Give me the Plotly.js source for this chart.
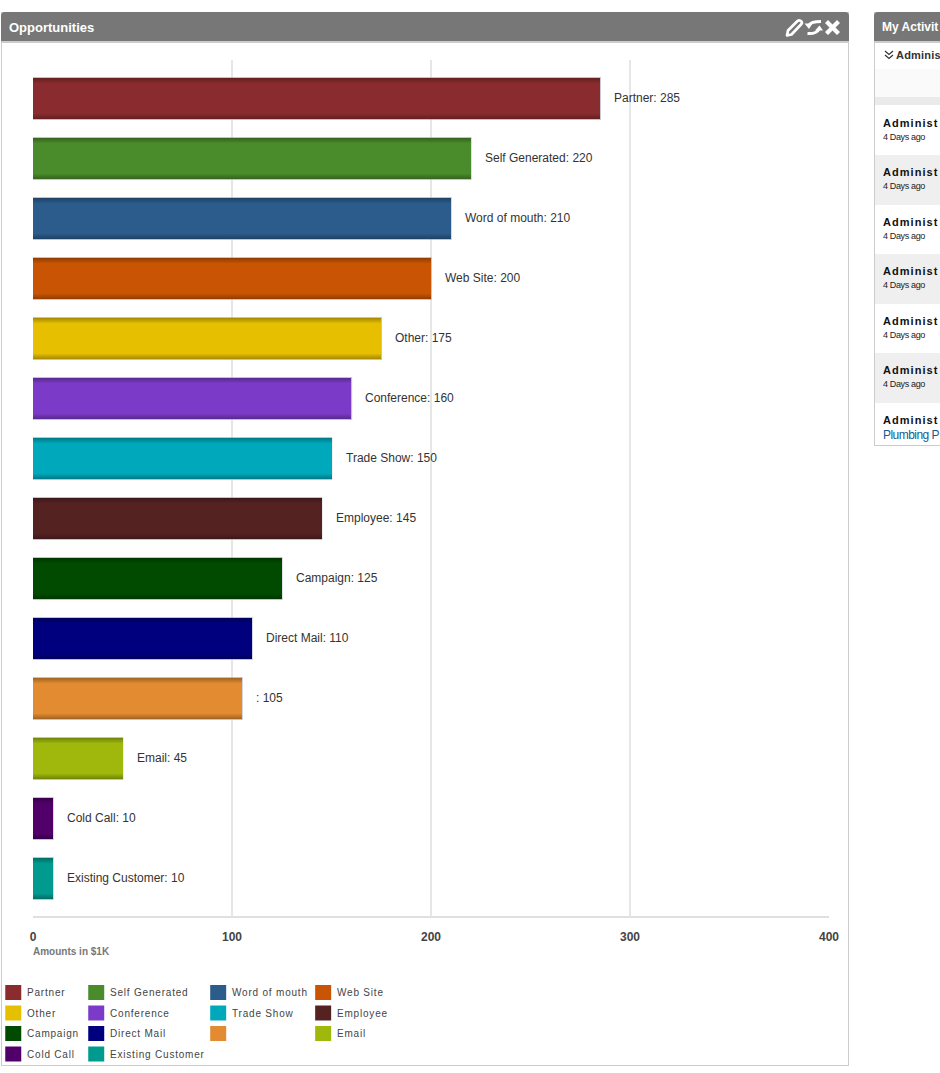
<!DOCTYPE html>
<html>
<head>
<meta charset="utf-8">
<script src="https://cdn.plot.ly/plotly-3.0.1.min.js"></script>
<style>
html,body{margin:0;padding:0;width:940px;height:1073px;overflow:hidden;background:#fff;font-family:"Liberation Sans",Arial,sans-serif}
.abs{position:absolute}
#chart{position:absolute;left:0;top:0;width:940px;height:1073px;z-index:2}
.panel{position:absolute;background:#fff;border:1px solid #ccc;box-sizing:border-box}
.hdr{position:absolute;background:#777;border-radius:4px 4px 0 0;border-bottom:2px solid #ccc;box-sizing:border-box;height:31px}
.row{position:absolute;left:875px;width:65px;overflow:hidden}
.nm{position:absolute;left:8px;font:bold 11px "Liberation Sans",Arial,sans-serif;letter-spacing:1.05px;color:#111;white-space:nowrap}
.ag{position:absolute;left:8px;font:9px "Liberation Sans",Arial,sans-serif;letter-spacing:-.35px;color:#222;white-space:nowrap}
</style>
</head>
<body>
<div class="panel" style="left:1px;top:12px;width:848px;height:1054px"></div>
<div class="hdr" style="left:1px;top:12px;width:848px"></div>
<svg class="abs" style="left:784px;top:17px;z-index:3" width="58" height="22" viewBox="0 0 58 22">
  <path d="M3 18.500 L4 13.500 L13.500 4 Q15.500 2.500 17.500 4.500 Q18.500 6 17 7.500 L7.500 17.500 Z" fill="none" stroke="#fff" stroke-width="2.700" stroke-linejoin="round"/>
  <path d="M25 8 Q27 4.500 37 4.500" fill="none" stroke="#fff" stroke-width="3"/>
  <path d="M20.500 6.500 L28.500 6.500 L25 12 Z" fill="#fff"/>
  <path d="M35 12 Q33 17 23.500 16.500" fill="none" stroke="#fff" stroke-width="3"/>
  <path d="M31 13.500 L39 13.500 L35.500 8.500 Z" fill="#fff"/>
  <path d="M41 6 L44 3 L48.500 7.500 L53 3 L56 6 L51.500 10.500 L56 15 L53 18 L48.500 13.500 L44 18 L41 15 L45.500 10.500 Z" fill="#fff"/>
</svg>

<div class="panel" style="left:874px;top:12px;width:80px;height:434px"></div>
<div class="hdr" style="left:874px;top:12px;width:80px"></div>
<div class="abs" style="left:882px;top:20px;font:bold 12px 'Liberation Sans',Arial,sans-serif;color:#fff;white-space:nowrap">My Activit</div>
<svg class="abs" style="left:884px;top:50px" width="10" height="10" viewBox="0 0 10 10"><path d="M1 1 L5 4.500 L9 1 M1 5 L5 8.500 L9 5" fill="none" stroke="#333" stroke-width="1.200"/></svg>
<div class="abs" style="left:896px;top:49px;font:bold 11px 'Liberation Sans',Arial,sans-serif;color:#333;white-space:nowrap;letter-spacing:.2px">Adminis</div>
<div class="abs" style="left:875px;top:69px;width:65px;height:28px;background:#fafafa"></div>
<div class="abs" style="left:875px;top:97px;width:65px;height:8px;background:#eaeaea"></div>
<div id="rows"></div>
<div id="chart"></div>

<script>
// Chart data
const categories = ['Partner','Self Generated','Word of mouth','Web Site','Other','Conference','Trade Show','Employee','Campaign','Direct Mail','','Email','Cold Call','Existing Customer'];
const legendLabels = ['Partner','Self Generated','Word of mouth','Web Site','Other','Conference','Trade Show','Employee','Campaign','Direct Mail','','Email','Cold Call','Existing Customer'];
const amounts = [285,220,210,200,175,160,150,145,125,110,105,45,10,10];
const barColors = ['#8a2c2f','#4a8b2c','#2b5c8b','#c95403','#e6c000','#7c3ac8','#00a8bc','#552222','#004b00','#00007f','#e28b30','#9fb80b','#500068','#009a8e'];
const tickValues = [0,100,200,300,400];

// Side panel text
const activityNames = ['Administ','Administ','Administ','Administ','Administ','Administ','Administ'];
const activityAges = ['4 Days ago','4 Days ago','4 Days ago','4 Days ago','4 Days ago','4 Days ago',''];

// Side panel rows
const rowTops = [106,155,205,254,304,353,403];
const rowsEl = document.getElementById('rows');
activityNames.forEach((n,i)=>{
  const r = document.createElement('div');
  r.className = 'row';
  const h = (i+1<rowTops.length?rowTops[i+1]:445)-rowTops[i];
  r.style.cssText = `top:${rowTops[i]}px;height:${h}px;background:${i%2?'#efefef':'#fff'}`;
  r.innerHTML = `<div class="nm" style="top:11px">${n}</div>`+
    (activityAges[i]?`<div class="ag" style="top:26px">${activityAges[i]}</div>`
      :`<div class="ag" style="top:25px;font-size:12px;color:#1b5a8c;letter-spacing:-.55px">Plumbing P</div>`);
  rowsEl.appendChild(r);
});

// Layout geometry
const W=940,H=1073,L=32.75,R=829,T=60,B=917,STEP=60,C0=98.5;
const px=x=>(x-L)/(R-L), py=y=>(B-y)/(B-T);

function shade(hex,f){
  const n=parseInt(hex.slice(1),16);
  const c=[n>>16,(n>>8)&255,n&255].map(v=>Math.round(v*f));
  return 'rgb('+c.join(',')+')';
}
const idx = amounts.map((_,i)=>i);
const layers = [
  {w:41.5,f:null},
  {w:41,f:0.74},
  {w:39,f:0.79},
  {w:37,f:0.84},
  {w:35,f:0.89},
  {w:33,f:0.94},
  {w:31,f:1}
];
const traces = layers.map(l=>({
  type:'bar',orientation:'h',x:amounts,y:idx,
  width:idx.map(()=>l.w/STEP),
  hoverinfo:'skip',showlegend:false,
  marker: l.f===null
    ? {color:'rgba(0,0,0,0)',line:{color:'rgba(170,170,185,0.7)',width:1.5}}
    : {color:barColors.map(c=>shade(c,l.f)),line:{width:0}}
}));

const annotations = [];
amounts.forEach((v,i)=>{
  annotations.push({x:v,y:i,xref:'x',yref:'y',xanchor:'left',yanchor:'middle',xshift:12,yshift:1,showarrow:false,
    text:`${categories[i]}: ${v}`,font:{family:'Liberation Sans, Arial, sans-serif',size:12,color:'#333'}});
});
annotations.push({x:px(33),y:py(951),xref:'paper',yref:'paper',xanchor:'left',yanchor:'middle',showarrow:false,xshift:-2,
  text:'Amounts in $1K',font:{family:'Liberation Sans, Arial, sans-serif',size:10,color:'#777',weight:700}});

const legCols=[5,88,210,315], legRows=[992.5,1013,1033.5,1054];
const shapes=[];
const legendFirst=annotations.length;
legendLabels.forEach((t,i)=>{
  const c=legCols[i%4], r=legRows[Math.floor(i/4)];
  shapes.push({type:'rect',xref:'paper',yref:'paper',x0:px(c),x1:px(c+16),y0:py(r-7.5),y1:py(r+7.5),
    fillcolor:barColors[i],line:{width:0},layer:'above'});
  if(t) annotations.push({x:px(c+22),y:py(r),xref:'paper',yref:'paper',xanchor:'left',yanchor:'middle',align:'left',showarrow:false,xshift:-2,
    text:t,font:{family:'Liberation Sans, Arial, sans-serif',size:10,color:'#444'}});
});

const layout={
  width:W,height:H,
  margin:{l:L,r:W-R,t:T,b:H-B,pad:0},
  paper_bgcolor:'rgba(0,0,0,0)',plot_bgcolor:'rgba(0,0,0,0)',
  title:{text:'Opportunities',x:9/W,xref:'container',xanchor:'left',y:1-27.5/H,yanchor:'middle',yref:'container',
    font:{family:'Liberation Sans, Arial, sans-serif',size:13,color:'#fff',weight:700},pad:{l:0,r:0,t:0,b:0}},
  barmode:'overlay',bargap:0,showlegend:false,
  xaxis:{range:[0,400],tickvals:tickValues,ticktext:tickValues.map(String),tickmode:'array',
    showgrid:true,gridcolor:'#e6e6e6',gridwidth:2,zeroline:false,showline:false,ticks:'',
    ticklabelstandoff:11,
    tickfont:{family:'Liberation Sans, Arial, sans-serif',size:12,color:'#444',weight:700}},
  yaxis:{range:[(B-C0)/STEP,(T-C0)/STEP],showgrid:false,zeroline:false,showticklabels:false,showline:false,ticks:''},
  shapes:shapes.concat([{type:'line',xref:'x',yref:'paper',x0:0,x1:400,y0:0,y1:0,line:{color:'#e0e0e0',width:2},layer:'below'}]),
  annotations
};
Plotly.newPlot('chart',traces,layout,{displayModeBar:false,staticPlot:true}).then(()=>{
  document.querySelectorAll('#chart .annotation').forEach(a=>{
    if(+a.getAttribute('data-index')>=legendFirst){
      a.querySelectorAll('text').forEach(t=>t.style.letterSpacing='0.8px');
    }
  });
});
</script>
</body>
</html>
